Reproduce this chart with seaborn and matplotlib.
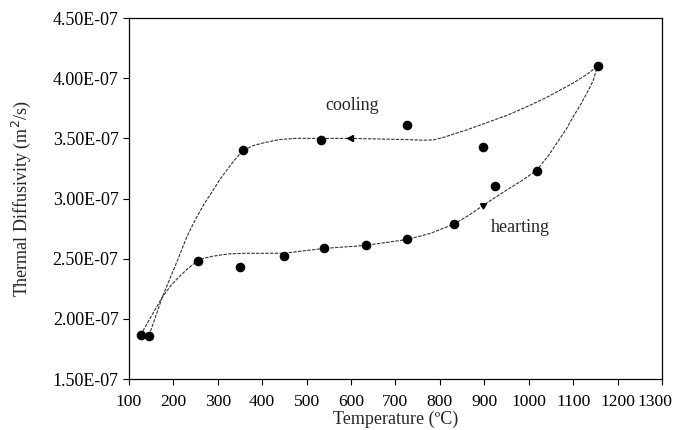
import numpy as np
import pandas as pd
import matplotlib
matplotlib.use("Agg")
import matplotlib.pyplot as plt
import matplotlib.transforms as mtransforms
import seaborn as sns

# measured points (T in C, diffusivity in 1e-7 m2/s)
point_T = [126, 145, 255, 350, 450, 538, 633, 727, 831, 1018, 1155,
           357, 532, 725, 896, 924]
point_V = [1.865, 1.857, 2.48, 2.43, 2.52, 2.585, 2.61, 2.66, 2.79, 3.23, 4.10,
           3.40, 3.49, 3.61, 3.43, 3.105]

# fitted cooling curve
cool_T = [145, 160, 175, 195, 213, 230, 250, 270, 288, 305, 325, 340, 357, 380,
          400, 438, 475, 532, 597, 660, 725, 760, 785, 810, 830, 860, 890, 950,
          1000, 1040, 1070, 1100, 1130, 1155]
cool_V = [1.86, 2.02, 2.18, 2.36, 2.52, 2.68, 2.83, 2.96, 3.06, 3.16, 3.26, 3.33, 3.40, 3.44,
          3.46, 3.49, 3.50, 3.50, 3.50, 3.495, 3.49, 3.485, 3.487, 3.51, 3.535, 3.57, 3.61, 3.69,
          3.77, 3.84, 3.90, 3.96, 4.03, 4.10]

# fitted heating curve
heat_T = [126, 150, 175, 195, 213, 233, 254, 270, 288, 305, 325, 363, 400, 449,
          538, 631, 727, 778, 830, 865, 898, 950, 985, 1018, 1045, 1063, 1085,
          1100, 1115, 1130, 1145, 1155]
heat_V = [1.865, 2.02, 2.18, 2.28, 2.35, 2.42, 2.48, 2.505, 2.52, 2.53, 2.54, 2.545, 2.545, 2.545,
          2.585, 2.61, 2.66, 2.71, 2.785, 2.86, 2.945, 3.07, 3.15, 3.235, 3.36, 3.46, 3.58,
          3.68, 3.77, 3.87, 3.98, 4.10]

arrow_T = [597, 898]
arrow_V = [3.50, 2.945]

x_ticks = list(range(100, 1301, 100))
y_ticks = [1.5, 2.0, 2.5, 3.0, 3.5, 4.0, 4.5]
y_labels = ["1.50E-07", "2.00E-07", "2.50E-07", "3.00E-07", "3.50E-07", "4.00E-07", "4.50E-07"]

sns.set_style("ticks")
plt.rcParams["font.family"] = ["Liberation Serif", "DejaVu Serif"]

fig = plt.figure(figsize=(6.76, 4.30), dpi=100)
ax = fig.add_axes([0.1908, 0.1186, 0.7885, 0.8394])

line_kw = dict(color="0.2", linewidth=0.8, linestyle=(0, (3, 1.2)))
sns.lineplot(x=cool_T, y=cool_V, ax=ax, estimator=None, **line_kw)
sns.lineplot(x=heat_T, y=heat_V, ax=ax, estimator=None, **line_kw)

sns.scatterplot(x=point_T, y=point_V, ax=ax, color="black", s=48,
                edgecolor="black", linewidth=0, zorder=3)

ax.plot(arrow_T[0], arrow_V[0], marker="<", color="black", markersize=5, zorder=4)
ax.plot(arrow_T[1], arrow_V[1], marker=(3, 0, -60), color="black", markersize=5, zorder=4)

ax.text(602, 3.77, "cooling", fontsize=13, ha="center", va="center")
ax.text(982, 2.76, "hearting", fontsize=13, ha="center", va="center")

ax.set_xlim(100, 1300)
ax.set_ylim(1.5, 4.5)
ax.set_xticks(x_ticks)
ax.set_yticks(y_ticks)
ax.set_yticklabels(y_labels)
ax.tick_params(labelsize=13, direction="out", length=4, width=0.8, colors="black")
ax.tick_params(axis="x", labelsize=12.6, pad=7)
for sp in ax.spines.values():
    sp.set_visible(True)
    sp.set_color("black")
    sp.set_linewidth(0.9)

# nudge the last x label inwards so it stays inside the figure
last = ax.get_xticklabels()[-1]
last.set_transform(last.get_transform() +
                   mtransforms.ScaledTranslation(-5 / 72, 0, fig.dpi_scale_trans))

ax.set_xlabel("Temperature (ºC)", fontsize=13, labelpad=0)
ax.set_ylabel("Thermal Diffusivity (m$^2$/s)", fontsize=13, labelpad=14)

fig.savefig("out.png", dpi=100)
